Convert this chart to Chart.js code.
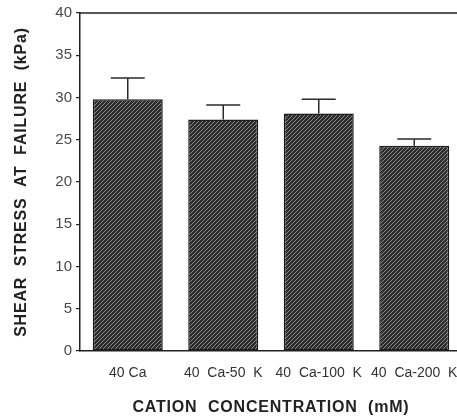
<!DOCTYPE html>
<html>
<head>
<meta charset="utf-8">
<script src="https://cdn.jsdelivr.net/npm/chart.js@4.4.0/dist/chart.umd.min.js"></script>
<style>
  html, body { margin: 0; padding: 0; background: #fff; overflow: hidden; }
  #wrap { width: 470px; height: 420px; }
</style>
</head>
<body>
<div id="wrap"><canvas id="graf" width="470" height="420"></canvas></div>
<script>
// data
const kategorie = ['40 Ca', '40  Ca-50  K', '40  Ca-100  K', '40  Ca-200  K'];
const hodnoty = [29.8, 27.4, 28.1, 24.3];
const chyby = [2.5, 1.7, 1.7, 0.8];
const tickyY = [0, 5, 10, 15, 20, 25, 30, 35, 40];

const pismo = "'Liberation Sans', Arial, Helvetica, sans-serif";

// hatched fill for the bars
function srafovani() {
    const c = document.createElement('canvas');
    c.width = 4;
    c.height = 4;
    const g = c.getContext('2d');
    g.fillStyle = '#2c2c2c';
    g.fillRect(0, 0, 4, 4);
    g.strokeStyle = '#8a8a8a';
    g.lineWidth = 1;
    g.beginPath();
    g.moveTo(0, 4); g.lineTo(4, 0);
    g.moveTo(-1, 1); g.lineTo(1, -1);
    g.moveTo(3, 5); g.lineTo(5, 3);
    g.stroke();
    return g.createPattern(c, 'repeat');
}

// upper error bars
const chybovky = {
    id: 'chybovky',
    afterDatasetsDraw(chart) {
        const ctx = chart.ctx;
        const y = chart.scales.y;
        const meta = chart.getDatasetMeta(0);
        ctx.save();
        ctx.strokeStyle = '#2a2a2a';
        ctx.lineWidth = 1.5;
        meta.data.forEach((bar, i) => {
            const yHore = y.getPixelForValue(hodnoty[i] + chyby[i]);
            const ySloupec = y.getPixelForValue(hodnoty[i]);
            ctx.beginPath();
            ctx.moveTo(bar.x, ySloupec);
            ctx.lineTo(bar.x, yHore);
            ctx.moveTo(bar.x - 17, yHore);
            ctx.lineTo(bar.x + 17, yHore);
            ctx.stroke();
        });
        ctx.restore();
    }
};

// top + right frame lines
const ramecek = {
    id: 'ramecek',
    afterDraw(chart) {
        const { ctx, chartArea: a } = chart;
        ctx.save();
        ctx.strokeStyle = '#222';
        ctx.lineWidth = 1.5;
        ctx.beginPath();
        ctx.moveTo(a.left, a.top);
        ctx.lineTo(a.right, a.top);
        ctx.lineTo(a.right, a.bottom);
        ctx.stroke();
        ctx.restore();
    }
};

// slightly wider letter spacing for axis titles
const rozestup = {
    id: 'rozestup',
    afterUpdate(chart) {
        Object.values(chart.scales).forEach(s => {
            if (s._rozestup) return;
            const puvodni = s.drawTitle;
            s.drawTitle = function () {
                this.ctx.save();
                this.ctx.letterSpacing = '0.8px';
                puvodni.call(this);
                this.ctx.restore();
            };
            s._rozestup = true;
        });
    }
};

const ctx = document.getElementById('graf').getContext('2d');
const myChart = new Chart(ctx, {
    type: 'bar',
    data: {
        labels: kategorie,
        datasets: [{
            data: hodnoty,
            backgroundColor: srafovani(),
            borderColor: '#1a1a1a',
            borderWidth: 1.5,
            borderSkipped: false,
            barPercentage: 0.733,
            categoryPercentage: 1
        }]
    },
    options: {
        responsive: false,
        animation: false,
        layout: { padding: { top: 13, right: 8, left: 0, bottom: 0 } },
        plugins: {
            legend: { display: false },
            tooltip: { enabled: false }
        },
        scales: {
            x: {
                grid: { display: false },
                border: { display: true, color: '#222', width: 1.5 },
                ticks: {
                    color: '#333',
                    font: { family: pismo, size: 14 },
                    padding: 6,
                    maxRotation: 0,
                    autoSkip: false
                },
                title: {
                    display: true,
                    text: 'CATION  CONCENTRATION  (mM)',
                    color: '#222',
                    font: { family: pismo, size: 16, weight: 'bold' },
                    padding: { top: 0, bottom: 3 }
                },
                afterFit(s) { s.height = 69; }
            },
            y: {
                min: 0,
                max: 40,
                afterBuildTicks(s) { s.ticks = tickyY.map(v => ({ value: v })); },
                grid: { drawOnChartArea: false, drawTicks: true, tickLength: 4, color: '#222', lineWidth: 1.2 },
                border: { display: true, color: '#222', width: 1.5 },
                ticks: {
                    color: '#4a4a4a',
                    font: { family: pismo, size: 15 },
                    padding: 4
                },
                title: {
                    display: true,
                    text: 'SHEAR  STRESS  AT  FAILURE  (kPa)',
                    color: '#222',
                    font: { family: pismo, size: 16, weight: 'bold' },
                    padding: { top: 12, bottom: 0 }
                },
                afterFit(s) { s.width = 80; }
            }
        }
    },
    plugins: [chybovky, ramecek, rozestup]
});
</script>
</body>
</html>
